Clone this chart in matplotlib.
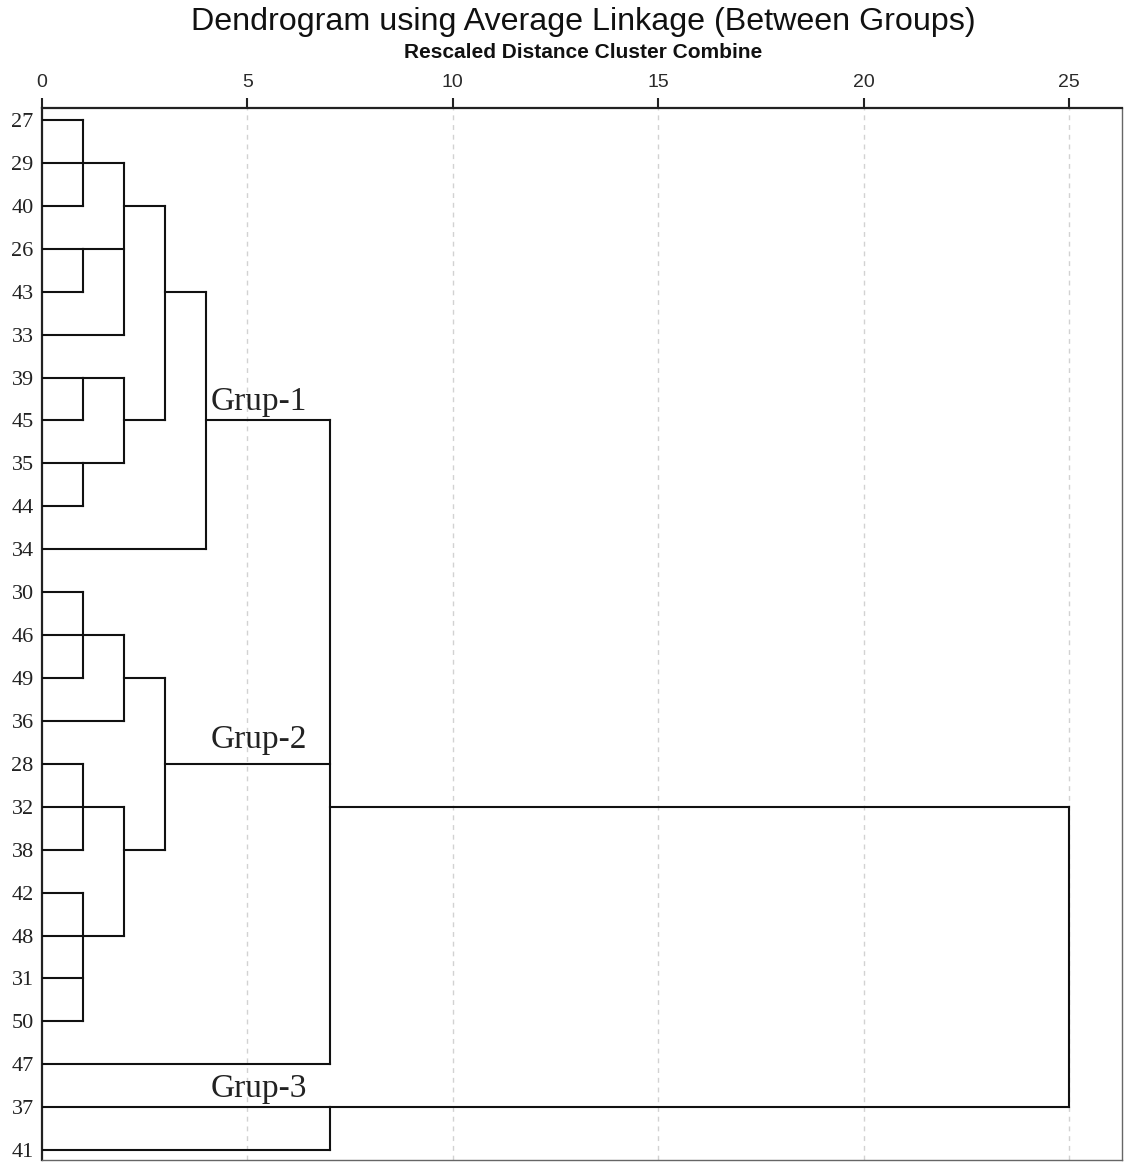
import matplotlib
matplotlib.use("Agg")
import matplotlib.pyplot as plt

# leaves in display order (top to bottom)
LEAVES = ["27", "29", "40", "26", "43", "33", "39", "45", "35", "44", "34",
          "30", "46", "49", "36", "28", "32", "38", "42", "48", "31", "50",
          "47", "37", "41"]

# merges: rescaled distance, children (leaf labels or earlier merge "m<i>"),
# and the leaf row that carries the merged cluster's outgoing line
MERGE_DIST = [1, 1, 2, 1, 1, 2, 3, 4, 1, 2, 1, 1, 2, 3, 7, 7, 25]
MERGE_CHILDREN = [
    ["27", "29", "40"],
    ["26", "43"],
    ["m0", "m1", "33"],
    ["39", "45"],
    ["35", "44"],
    ["m3", "m4"],
    ["m2", "m5"],
    ["m6", "34"],
    ["30", "46", "49"],
    ["m8", "36"],
    ["28", "32", "38"],
    ["42", "48", "31", "50"],
    ["m10", "m11"],
    ["m9", "m12"],
    ["m7", "m13", "47"],
    ["37", "41"],
    ["m14", "m15"],
]
MERGE_ROW = ["29", "26", "40", "39", "35", "45", "43", "45", "46", "49",
             "32", "48", "38", "28", "32", "37", "37"]

GROUP_LABELS = ["Grup-1", "Grup-2", "Grup-3"]
GROUP_ROWS = ["45", "28", "37"]

XTICKS = [0, 5, 10, 15, 20, 25]

W, H = 1124, 1165
fig = plt.figure(figsize=(W / 100, H / 100), dpi=100)
ax = fig.add_axes([42 / W, 1 - 1160 / H, (1122 - 42) / W, (1160 - 108) / H])

row = {lab: i for i, lab in enumerate(LEAVES)}
pos = {lab: (0.0, float(i)) for i, lab in enumerate(LEAVES)}
lw = 1.5
col = "#111111"
for i, (d, kids, rep) in enumerate(zip(MERGE_DIST, MERGE_CHILDREN, MERGE_ROW)):
    ys = []
    for k in kids:
        x0, y0 = pos[k]
        ax.plot([x0, d], [y0, y0], color=col, lw=lw, solid_capstyle="projecting", zorder=3)
        ys.append(y0)
    ax.plot([d, d], [min(ys), max(ys)], color=col, lw=lw, solid_capstyle="projecting", zorder=3)
    pos[f"m{i}"] = (float(d), float(row[rep]))

# vertical dashed grid
for t in XTICKS[1:]:
    ax.axvline(t, color="#d2d2d2", lw=1.0, ls=(0, (3.5, 3.5)), zorder=1)

ax.set_xlim(0, 26.29)
ax.set_ylim(24.23, -0.28)

ax.xaxis.tick_top()
ax.set_xticks(XTICKS)
ax.set_xticklabels([str(t) for t in XTICKS], fontsize=14, color="#2a2a2a",
                   family=["Liberation Sans", "DejaVu Sans"])
ax.tick_params(axis="x", direction="out", length=7, width=1.5, color="#222222", pad=5)

ax.set_yticks(range(len(LEAVES)))
ax.set_yticklabels(LEAVES, fontsize=16, color="#222222",
                   family=["Liberation Serif", "DejaVu Serif"])
ax.tick_params(axis="y", length=0, pad=6)

for side in ("top", "left"):
    ax.spines[side].set_linewidth(1.6)
    ax.spines[side].set_color("#222222")
for side in ("right", "bottom"):
    ax.spines[side].set_linewidth(1.0)
    ax.spines[side].set_color("#666666")

# group annotations
offsets = [0.25, 0.36, 0.24]
for lab, r, off in zip(GROUP_LABELS, GROUP_ROWS, offsets):
    ax.text(4.1, row[r] - off, lab, fontsize=24, color="#222222",
            family=["Liberation Serif", "DejaVu Serif"], va="baseline", ha="left")

fig.text(583 / W, 1 - 22 / H, "Dendrogram using Average Linkage (Between Groups)",
         fontsize=23.2, color="#111111", ha="center", va="center",
         family=["Liberation Sans", "DejaVu Sans"])
fig.text(583 / W, 1 - 53 / H, "Rescaled Distance Cluster Combine",
         fontsize=15, fontweight="bold", color="#111111", ha="center", va="center",
         family=["Liberation Sans", "DejaVu Sans"])

fig.savefig("out.png", dpi=100)
